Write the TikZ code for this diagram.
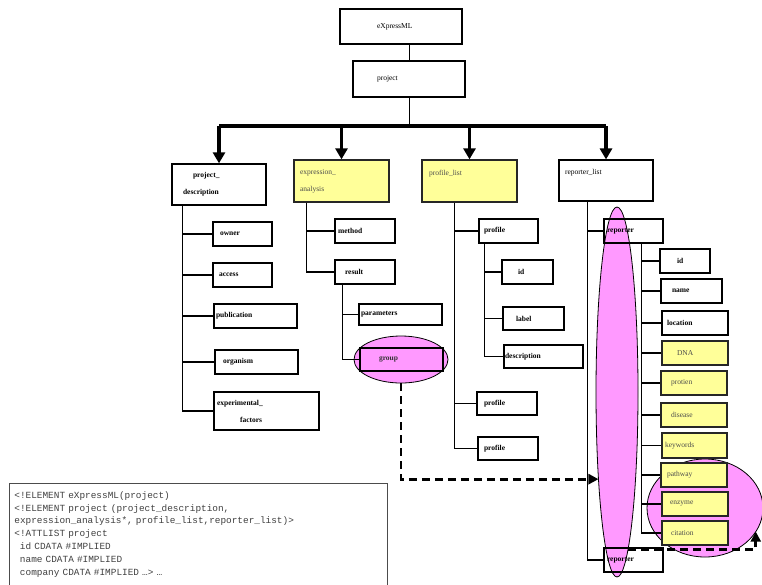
\documentclass[tikz,border=0pt]{standalone}
\usepackage{fontspec}
\setmainfont{Liberation Serif}
\setmonofont{Liberation Mono}
\usetikzlibrary{arrows.meta,calc,positioning,shapes.geometric}
\definecolor{hiyellow}{HTML}{FFFF99}
\definecolor{selpink}{HTML}{FF99FF}
\newcommand{\lblfont}{\fontsize{7.5}{9}\selectfont}
\tikzset{
  box-b/.style={draw,rectangle,line width=1.3pt,inner sep=0pt,minimum height=24pt,align=left,font=\lblfont\bfseries},
  box-h/.style={box-b,line width=1.1pt,font=\lblfont},
  box-y/.style={box-b,fill=hiyellow,draw=black!85,font=\lblfont,text=black!70},
  box-p/.style={box-b,fill=selpink,font=\lblfont\bfseries,text=black!80},
  sel/.style={draw,ellipse,fill=selpink,line width=0.8pt,inner sep=0pt,outer sep=0pt},
  tree/.style={line width=1.1pt},
  bus/.style={line width=3.5pt},
  feed/.style={-{Triangle[width=12pt,length=11pt]},line width=3.2pt},
  selflow/.style={-{Triangle[width=10pt,length=10pt]},line width=2.8pt,dash pattern=on 8pt off 5pt},
  dtd/.style={draw=black!70,line width=0.8pt,anchor=north west,inner xsep=5pt,align=left,text=black!75,font=\ttfamily\fontsize{9.4}{12.9}\selectfont},
}

\begin{document}
\begin{tikzpicture}[x=1pt,y=-1pt]
  \useasboundingbox (0,0) rectangle (762,584);

  % selections (behind the boxes)
  \node[sel,minimum width=94pt,minimum height=47pt]   (grpsel)  at (401,359.5) {};
  \node[sel,minimum width=42pt,minimum height=370pt]  (repsel)  at (617,392)   {};
  \node[sel,minimum width=116pt,minimum height=98pt]  (attrsel) at (705,508)   {};

  % ROOT
  \node[box-h,text width=122pt,minimum height=35pt] (root) at (401,26.5) {\hspace*{37pt}eXpressML};
  \node[box-h,text width=112pt,minimum height=36pt] (proj) at (409,79)   {\hspace*{24pt}project};
  \coordinate (bus) at (409,126);
  \draw[line width=1pt] (proj.north |- root.south) -- (proj.north);
  \draw[line width=1pt] (proj.south) -- (bus);

  % ROW 2: the four lists
  \node[box-b,text width=94pt,minimum height=41pt] (pd) at (219,184.5)  {\hspace*{21pt}project\_\\[8pt]\hspace*{11pt}description};
  \node[box-y,text width=95pt,minimum height=42pt] (ea) at (341.5,181)  {\hspace*{6pt}expression\_\\[8pt]\hspace*{6pt}analysis};
  \node[box-y,text width=95pt,minimum height=42pt] (pl) at (469.5,181)  {\hspace*{7pt}profile\_list\\[8pt]\mbox{}};
  \node[box-h,text width=94pt,minimum height=41pt] (rl) at (606,180.5)  {\hspace*{6pt}reporter\_list\\[8pt]\mbox{}};
  \draw[bus] (pd.north |- bus) -- (rl.north |- bus);
  \foreach \n in {pd,ea,pl,rl}
    \draw[feed] (\n.north |- bus) -- (\n.north);

  % COLUMN 1: project_description
  \node[box-b,text width=59pt]  (owner)    at (242.5,234) {\hspace*{7pt}owner};
  \node[box-b,text width=59pt]  (access)   at (242.5,275) {\hspace*{6pt}access};
  \node[box-b,text width=83pt]  (publ)     at (255.5,316) {\hspace*{2pt}publication};
  \node[box-b,text width=83pt]  (organism) at (256.5,362) {\hspace*{8pt}organism};
  \node[box-b,text width=105pt,minimum height=38pt] (fact) at (266.5,411) {\hspace*{3pt}experimental\_\\[8pt]\hspace*{26pt}factors};
  \coordinate (pdspine) at ([xshift=11pt]pd.south west);
  \draw[tree] (pdspine) |- (fact.west);
  \foreach \c in {owner,access,publ,organism}
    \draw[tree] (pdspine |- \c.west) -- (\c.west);

  % COLUMN 2: expression_analysis
  \node[box-b,text width=60pt] (method) at (365,231)   {\hspace*{3pt}method};
  \node[box-b,text width=60pt] (result) at (365,272)   {\hspace*{10pt}result};
  \node[box-b,text width=83pt,minimum height=21pt] (params) at (400.5,314.5) {\hspace*{2pt}parameters};
  \node[box-p,text width=83pt,minimum height=23pt] (group)  at (401.5,359.5) {\hspace*{19pt}group};
  \coordinate (easpine) at ([xshift=13pt]ea.south west);
  \draw[tree] (easpine) |- (result.west);
  \draw[tree] (easpine |- method.west) -- (method.west);
  \coordinate (resspine) at ([xshift=8pt]result.south west);
  \draw[tree] (resspine) |- (group.west);
  \draw[tree] (resspine |- params.west) -- (params.west);

  % COLUMN 3: profile_list
  \node[box-b,text width=59pt] (prof1)  at (508.5,231) {\hspace*{5pt}profile};
  \node[box-b,text width=51pt] (pid)    at (527.5,272) {\hspace*{16pt}id};
  \node[box-b,text width=61pt,minimum height=23pt] (plabel) at (533.5,318.5) {\hspace*{13pt}label};
  \node[box-b,text width=79pt,minimum height=23pt] (pdesc)  at (543.5,356.5) {\hspace*{1pt}description};
  \node[box-b,text width=60pt,minimum height=23pt] (prof2)  at (507,403.5)   {\hspace*{7pt}profile};
  \node[box-b,text width=60pt,minimum height=23pt] (prof3)  at (508,448.5)   {\hspace*{6pt}profile};
  \coordinate (plspine) at ([xshift=33pt]pl.south west);
  \draw[tree] (plspine) |- (prof3.west);
  \foreach \c in {prof1,prof2}
    \draw[tree] (plspine |- \c.west) -- (\c.west);
  \coordinate (p1spine) at ([xshift=6pt]prof1.south west);
  \draw[tree] (p1spine) |- (pdesc.west);
  \foreach \c in {pid,plabel}
    \draw[tree] (p1spine |- \c.west) -- (\c.west);

  % COLUMN 4: reporter_list
  \node[box-b,text width=59pt] (rep1)     at (633.5,231) {\hspace*{3pt}reporter};
  \node[box-b,text width=50pt] (rid)      at (685,261)   {\hspace*{17pt}id};
  \node[box-b,text width=61pt] (rname)    at (691.5,291) {\hspace*{11pt}name};
  \node[box-b,text width=66pt] (rloc)     at (695,323)   {\hspace*{5pt}location};
  \node[box-y,text width=66pt] (dna)      at (695,353)   {\hspace*{15pt}DNA};
  \node[box-y,text width=66pt] (protien)  at (694,383)   {\hspace*{10pt}protien};
  \node[box-y,text width=66pt] (disease)  at (694,415)   {\hspace*{10pt}disease};
  \node[box-y,text width=65pt,minimum height=25pt] (keywords) at (694.5,445.5) {\hspace*{3pt}keywords};
  \node[box-y,text width=66pt] (pathway)  at (694,475)   {\hspace*{6pt}pathway};
  \node[box-y,text width=66pt] (enzyme)   at (695,504)   {\hspace*{8pt}enzyme};
  \node[box-y,text width=66pt] (citation) at (695,533)   {\hspace*{9pt}citation};
  \node[box-b,text width=59pt] (rep2)     at (633.5,560) {\hspace*{3pt}reporter};
  \coordinate (rlspine) at ([xshift=29pt]rl.south west);
  \draw[tree] (rlspine) |- (rep2.west);
  \draw[tree] (rlspine |- rep1.west) -- (rep1.west);
  \coordinate (r1spine) at ([xshift=38pt]rep1.south west);
  \draw[tree] (r1spine) |- (citation.west);
  \foreach \c in {rid,rname,rloc,dna,protien,disease,keywords,pathway,enzyme}
    \draw[tree] (r1spine |- \c.west) -- (\c.west);

  % group -> reporter, reporter -> attributes
  \draw[selflow] (grpsel.south) |- (repsel.258);
  \draw[selflow] (repsel.-86) -| (attrsel.-25);

  % DTD excerpt
  \node[dtd,minimum width=378pt,minimum height=102pt,text width=368pt] (dtdbox) at (9,483) {%
    <!ELEMENT eXpressML(project)\\
    <!ELEMENT project (project\_description,\\
    expression\_analysis*, profile\_list,reporter\_list)>\\
    <!ATTLIST project\\
    \hspace*{5.6pt}id CDATA \#IMPLIED\\
    \hspace*{5.6pt}name CDATA \#IMPLIED\\
    \hspace*{5.6pt}company CDATA \#IMPLIED …> …};

\end{tikzpicture}
\end{document}
